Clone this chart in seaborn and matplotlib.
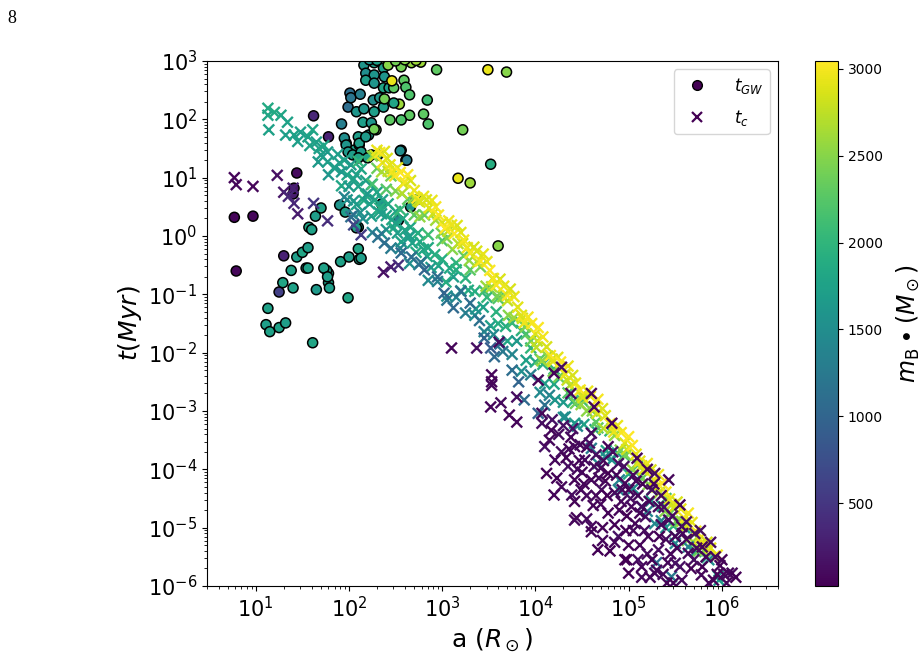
import numpy as np
import pandas as pd
import matplotlib
matplotlib.use("Agg")
import matplotlib.pyplot as plt
import seaborn as sns
from matplotlib.colors import Normalize
from matplotlib.lines import Line2D
from matplotlib.ticker import LogLocator, NullFormatter

# ---------------- data (log10 a [R_sun], log10 t [Myr], mass [M_sun]) ----------------
# t_GW circles
gw_low_loga = [0.77, 0.97, 0.79, 1.44, 1.40, 1.41, 1.62, 1.78, 1.30, 1.25]
gw_low_logt = [0.32, 0.34, -0.60, 1.08, 0.72, 0.82, 2.06, 1.70, -0.34, -0.96]
gw_low_m = [60, 80, 70, 110, 250, 200, 350, 300, 300, 600]

gw_ll_loga = [1.13, 1.11, 1.15, 1.25, 1.32, 1.29, 1.38, 1.40, 1.44, 1.50, 1.54, 1.61, 1.65, 1.57,
              1.60, 1.64, 1.70, 1.78, 1.76, 1.78, 1.79, 1.91, 2.00, 2.11, 1.99, 2.10, 2.10, 1.90,
              1.96, 1.56, 1.56, 1.73, 1.77, 2.13, 2.08]
gw_ll_logt = [-1.24, -1.52, -1.64, -1.57, -1.49, -0.80, -0.59, -0.89, -0.36, -0.28, -0.55, -1.83,
              -0.92, 0.15, 0.11, 0.34, 0.48, -0.64, -0.59, -0.80, -0.89, -0.44, -0.36, -0.40, -1.06,
              -0.22, 0.15, 0.53, 0.41, -0.20, -0.55, -0.55, -0.70, -0.38, 0.14]
gw_ll_m = [1750, 1700, 1750, 1750, 1700, 1800, 1750, 1750, 1700, 1800, 1700, 1800, 1650, 1800,
           1750, 1700, 1750, 1800, 1700, 1750, 1700, 1750, 1700, 1750, 1800, 1800, 1700, 1600,
           1700, 1700, 1750, 1750, 1700, 1700, 1750]

gw_up_loga = [2.05, 1.97, 2.11, 2.24, 2.56, 2.61, 1.92, 1.99, 2.01, 2.02, 2.12, 2.08, 2.16, 2.27,
              2.26, 2.33, 2.37, 2.38, 2.15, 2.24, 2.29, 2.21, 2.10, 2.11, 2.18, 1.95, 1.97, 1.99,
              2.04, 2.13, 2.10, 2.20, 2.16, 2.27, 2.18, 2.27, 2.18, 2.27, 2.37, 2.38, 2.37, 2.43,
              2.48, 2.46, 2.42, 2.56, 2.67, 2.77, 2.59, 2.61, 2.65, 2.54, 2.48, 2.65, 2.56, 2.44,
              2.27, 2.84, 2.80, 2.85, 2.94, 3.49, 3.69, 3.22, 3.17, 3.30, 3.52, 2.55, 2.62, 2.31,
              3.60, 2.35, 2.53, 2.72, 2.66, 2.22, 2.30, 2.50, 2.60, 2.72]
gw_up_logt = [1.47, 1.59, 1.56, 1.39, 1.47, 1.30, 1.92, 2.21, 2.45, 2.37, 2.43, 2.13, 2.18, 2.13,
              2.33, 2.37, 2.21, 2.35, 1.95, 1.94, 1.82, 1.73, 1.70, 1.59, 1.70, 1.68, 1.56, 1.44,
              1.39, 1.44, 1.34, 1.34, 2.93, 2.97, 2.79, 2.76, 2.67, 2.62, 2.88, 2.73, 2.54, 2.54,
              2.54, 2.66, 2.93, 2.90, 2.97, 2.98, 2.67, 2.55, 2.42, 2.26, 2.28, 2.07, 1.99, 1.99,
              1.83, 2.33, 2.09, 1.92, 2.85, 2.85, 2.81, 1.82, 0.99, 0.91, 1.23, 1.46, 1.30, 1.39,
              -0.17, 0.55, 0.27, 0.62, 0.50, 3.02, 3.01, 3.00, 3.02, 3.01]
gw_up_m = [1700, 1650, 1700, 1750, 1500, 1300, 1300, 1100, 1100, 1200, 1300, 1600, 1600, 1700,
           1500, 1600, 1700, 2400, 1700, 1600, 2400, 1700, 1700, 1700, 1650, 1500, 1600, 1650,
           1700, 1700, 1800, 1800, 1600, 1700, 1500, 1600, 1700, 1600, 1700, 1600, 1800, 1700,
           2300, 2950, 2500, 2400, 2550, 2600, 2300, 2200, 2200, 2600, 1800, 2300, 2200, 2300,
           2400, 2100, 2300, 2200, 2300, 2950, 2500, 2400, 2950, 2600, 1900, 1500, 1300, 1700,
           2500, 1500, 1400, 1900, 1600, 1600, 1750, 2400, 2500, 2600]

# t_c crosses
tc_y1_loga = [2.30, 2.36, 2.41, 2.47, 2.52, 2.60, 2.66, 2.73, 2.80, 2.86, 2.93, 3.00, 3.07, 3.13,
              3.20, 3.27, 3.34, 3.41, 3.48, 3.55, 3.62, 3.70, 3.77, 3.85, 3.92, 4.00, 4.08, 4.16,
              4.24, 4.32, 4.40, 4.48, 4.56, 4.64, 4.72, 4.80, 4.88, 4.96, 5.04, 5.12, 5.20, 5.28,
              5.36, 5.44, 5.52, 5.60, 5.68, 5.76, 5.84, 5.92]
tc_y1_logt = [1.47, 1.26, 1.33, 1.11, 1.17, 0.92, 0.95, 0.65, 0.68, 0.48, 0.50, 0.23, 0.26, 0.04,
              0.06, -0.20, -0.19, -0.43, -0.44, -0.73, -0.74, -1.02, -1.04, -1.36, -1.39, -1.68,
              -1.73, -2.05, -2.08, -2.37, -2.39, -2.64, -2.66, -2.95, -2.96, -3.22, -3.25, -3.55,
              -3.59, -3.86, -3.90, -4.19, -4.24, -4.51, -4.56, -4.84, -4.91, -5.19, -5.25, -5.49]
tc_y1_m = [2950, 3000, 2880, 3030, 2920, 2990, 2860, 3040, 2940, 2900, 3010, 2870, 2980, 3030,
           2910, 2960, 2850, 3020, 2930, 2990, 2880, 3040, 2950, 2900, 3000, 2870, 2980, 3020,
           2920, 2960, 2860, 3030, 2940, 2990, 2890, 3010, 2950, 2870, 3030, 2920, 2980, 2900,
           3040, 2940, 2860, 3000, 2930, 2970, 2890, 3020]

tc_y2_loga = [2.38, 2.49, 2.63, 2.76, 2.89, 3.03, 3.16, 3.30, 3.44, 3.58, 3.73, 3.88, 4.03, 4.19,
              4.35, 4.51, 4.67, 4.84, 5.00, 5.16, 5.32, 5.48, 5.64, 5.80, 5.95]
tc_y2_logt = [1.45, 1.03, 1.05, 0.58, 0.61, 0.13, 0.18, -0.29, -0.31, -0.84, -0.91, -1.49, -1.57,
              -2.15, -2.23, -2.77, -2.80, -3.36, -3.44, -4.01, -4.09, -4.66, -4.75, -5.31, -5.47]
tc_y2_m = [2900, 2980, 3020, 2870, 2950, 3040, 2890, 2990, 2930, 3010, 2860, 2970, 3030, 2910,
           2960, 2880, 3000, 2940, 3040, 2900, 2970, 2850, 3010, 2930, 2990]

tc_y3_loga = [2.33, 2.44, 2.55, 2.70, 2.83, 2.96, 3.10, 3.23, 3.37, 3.51, 3.66, 3.81, 3.96, 4.12,
              4.27, 4.43, 4.59, 4.75, 4.92, 5.08, 5.24, 5.40, 5.56, 5.72, 5.88]
tc_y3_logt = [1.43, 1.22, 1.09, 0.78, 0.62, 0.36, 0.19, -0.07, -0.26, -0.59, -0.86, -1.22, -1.50,
              -1.90, -2.16, -2.52, -2.75, -3.08, -3.37, -3.74, -4.01, -4.39, -4.68, -5.06, -5.35]
tc_y3_m = [3000, 2920, 3040, 2960, 2880, 3020, 2940, 2990, 2870, 3030, 2950, 2910, 3000, 2860,
           3040, 2930, 2980, 2900, 3020, 2950, 2870, 3010, 2940, 2990, 2920]

tc_y4_loga = [2.28, 2.42, 2.58, 2.74, 2.90, 3.06, 3.22, 3.38, 3.54, 3.70, 3.86, 4.02, 4.18, 4.34,
              4.50, 4.66, 4.82, 4.98, 5.14, 5.30, 5.46, 5.62, 5.78]
tc_y4_logt = [1.38, 1.11, 0.90, 0.60, 0.38, 0.08, -0.13, -0.45, -0.73, -1.11, -1.41, -1.80, -2.11,
              -2.47, -2.73, -3.04, -3.30, -3.66, -3.94, -4.30, -4.60, -4.97, -5.27]
tc_y4_m = [2800, 2760, 2840, 2780, 2820, 2750, 2850, 2790, 2810, 2770, 2840, 2760, 2830, 2800,
           2780, 2850, 2750, 2820, 2790, 2840, 2770, 2810, 2800]

tc_g_loga = [2.25, 2.35, 2.45, 2.57, 2.69, 2.81, 2.93, 3.05, 3.17, 3.29, 3.41, 3.53, 3.65, 3.77,
             3.89, 4.01, 4.13, 4.25, 4.37, 4.49, 4.61, 4.73, 4.85, 4.97, 5.09, 5.21, 5.33, 5.45,
             5.57, 5.69, 5.81]
tc_g_logt = [1.37, 1.10, 1.03, 0.73, 0.65, 0.36, 0.27, -0.04, -0.13, -0.42, -0.53, -0.87, -1.04,
             -1.40, -1.56, -1.91, -2.06, -2.42, -2.56, -2.89, -3.00, -3.30, -3.42, -3.76, -3.91,
             -4.26, -4.40, -4.75, -4.89, -5.24, -5.40]
tc_g_m = [2500, 2650, 2420, 2700, 2550, 2380, 2620, 2480, 2720, 2560, 2400, 2680, 2520, 2600,
          2450, 2740, 2530, 2390, 2660, 2580, 2470, 2700, 2540, 2430, 2640, 2500, 2690, 2410,
          2590, 2650, 2520]

tc_g2_loga = [2.30, 2.50, 2.63, 2.76, 2.99, 3.11, 3.23, 3.47, 3.59, 3.71, 3.95, 4.07, 4.19, 4.43,
              4.55, 4.67, 4.91, 5.03, 5.15, 5.39, 5.51, 5.63, 5.75]
tc_g2_logt = [1.16, 0.77, 0.63, 0.33, 0.05, -0.23, -0.34, -0.86, -1.03, -1.36, -1.80, -2.14, -2.32,
              -2.87, -3.00, -3.29, -3.67, -3.99, -4.15, -4.72, -4.89, -5.22, -5.40]
tc_g2_m = [2350, 2450, 2300, 2550, 2400, 2500, 2320, 2580, 2420, 2480, 2360, 2600, 2440, 2380,
           2520, 2300, 2460, 2560, 2340, 2500, 2410, 2470, 2380]

tc_gt_loga = [2.10, 2.25, 2.40, 2.55, 2.70, 2.85, 3.00, 3.15, 3.30, 3.45, 3.60, 3.75, 3.90, 4.05,
              4.20, 4.35, 4.50, 4.65, 4.80, 4.95, 5.10, 5.25, 5.40, 5.55, 5.70]
tc_gt_logt = [1.28, 0.89, 0.80, 0.45, 0.36, 0.02, -0.08, -0.46, -0.58, -0.94, -1.07, -1.49, -1.68,
              -2.11, -2.28, -2.69, -2.82, -3.19, -3.34, -3.76, -3.93, -4.35, -4.50, -4.90, -5.11]
tc_gt_m = [2000, 2150, 2250, 2050, 2300, 2100, 2200, 1980, 2280, 2120, 2230, 2020, 2180, 2300,
           2060, 2210, 2140, 2270, 2000, 2190, 2250, 2080, 2160, 2290, 2030]

tc_tul_loga = [1.13, 1.13, 1.14, 1.27, 1.34, 1.32, 1.41, 1.48, 1.56, 1.61, 1.65, 1.68, 1.70, 1.77,
               1.67, 1.77, 1.84, 1.78, 1.20, 1.45, 1.58, 1.73]
tc_tul_logt = [2.19, 2.07, 1.82, 2.07, 1.95, 1.73, 1.73, 1.78, 1.70, 1.82, 1.61, 1.50, 1.39, 1.44,
               1.27, 1.27, 1.17, 1.05, 2.12, 1.62, 1.55, 1.55]
tc_tul_m = [1850, 1800, 1750, 1800, 1750, 1700, 1750, 1700, 1750, 1800, 1700, 1750, 1700, 1650,
            1650, 1700, 1750, 1600, 1850, 1700, 1750, 1800]

tc_t_loga = [1.85, 1.92, 2.00, 2.08, 2.16, 2.24, 2.32, 2.40, 2.48, 2.56, 2.64, 2.72, 2.80, 2.88,
             2.96, 3.04, 3.12, 3.20, 3.28, 3.36, 3.44, 3.52, 3.60, 3.70, 3.80, 3.90, 4.00, 4.10,
             4.20, 4.30, 4.40, 4.52, 4.64, 4.76, 4.88, 5.00, 5.12, 5.24, 5.36, 5.48, 5.60, 5.72,
             5.84, 5.96]
tc_t_logt = [1.17, 0.86, 0.85, 0.54, 0.61, 0.34, 0.41, 0.11, 0.14, -0.10, -0.03, -0.28, -0.23,
             -0.54, -0.51, -0.79, -0.70, -0.94, -0.93, -1.25, -1.22, -1.54, -1.50, -1.80, -1.80,
             -2.13, -2.16, -2.53, -2.54, -2.85, -2.84, -3.23, -3.32, -3.68, -3.72, -4.08, -4.12,
             -4.54, -4.63, -4.97, -5.00, -5.41, -5.51, -5.83]
tc_t_m = [1700, 1800, 1650, 1750, 1850, 1700, 1800, 1650, 1900, 1750, 1700, 1850, 1800, 1650,
          1750, 1900, 1700, 1800, 1850, 1650, 1750, 1700, 1900, 1800, 1650, 1750, 1850, 1700,
          1800, 1650, 1900, 1750, 1700, 1800, 1650, 1850, 1750, 1700, 1800, 1900, 1650, 1750,
          1800, 1700]

tc_t2_loga = [1.90, 1.98, 2.05, 2.10, 2.18, 2.22, 2.28, 2.33, 2.40, 2.46, 2.52, 2.60, 2.68, 2.76,
              2.84, 2.92, 3.08, 3.25, 3.35, 3.48, 3.58, 3.68, 3.85, 3.95, 4.08]
tc_t2_logt = [1.25, 1.05, 0.60, 0.85, 0.70, 0.55, 0.62, 0.48, 0.35, 0.28, 0.05, 0.10, -0.12, -0.10,
              -0.35, -0.32, -0.55, -0.72, -0.95, -1.05, -1.30, -1.55, -1.62, -1.92, -2.20]
tc_t2_m = [1700, 1800, 1650, 1750, 1850, 1700, 1800, 1900, 1750, 1850, 1700, 1800, 1750, 1850,
           1800, 1900, 1850, 1950, 1900, 2000, 1950, 1900, 1950, 2000, 1950]

tc_tup_loga = [1.88, 1.95, 2.02, 2.08, 2.13, 2.18, 2.24, 2.30, 2.36, 2.42, 2.50, 2.58, 2.66, 2.74,
               1.92, 2.05, 2.20, 2.35, 2.50, 2.65, 2.85, 3.00, 3.15, 1.98, 2.12]
tc_tup_logt = [1.40, 1.30, 1.22, 1.05, 1.15, 0.95, 0.88, 0.75, 0.62, 0.55, 0.42, 0.30, 0.15, 0.05,
               1.10, 0.98, 0.72, 0.38, 0.22, 0.00, -0.20, -0.40, -0.58, 0.62, 0.40]
tc_tup_m = [1700, 1750, 1650, 1700, 1800, 1750, 1700, 1800, 1750, 1850, 1800, 1850, 1800, 1900,
            1650, 1750, 1650, 1700, 1750, 1700, 1850, 1900, 1900, 1600, 1550]

tc_bt_loga = [1.95, 2.05, 2.15, 2.25, 2.35, 2.45, 2.55, 2.65, 2.75, 2.85, 2.95, 3.05, 3.15, 3.25,
              3.35, 3.45, 3.55, 3.65, 3.75, 3.85, 3.95, 4.05, 4.15, 4.30, 4.45, 4.60, 4.75, 4.90,
              5.05, 5.20, 5.35, 5.50]
tc_bt_logt = [0.67, 0.36, 0.30, 0.06, 0.04, -0.21, -0.21, -0.47, -0.49, -0.76, -0.78, -1.03,
              -1.05, -1.32, -1.36, -1.64, -1.69, -1.98, -2.03, -2.32, -2.38, -2.68, -2.73, -3.11,
              -3.26, -3.64, -3.78, -4.18, -4.33, -4.72, -4.88, -5.27]
tc_bt_m = [1400, 1300, 1500, 1350, 1450, 1250, 1400, 1500, 1300, 1450, 1350, 1550, 1400, 1300,
           1500, 1350, 1450, 1250, 1400, 1500, 1300, 1450, 1350, 1500, 1400, 1300, 1450, 1350,
           1500, 1400, 1300, 1450]

tc_b_loga = [2.02, 2.05, 2.13, 2.31, 2.38, 2.56, 2.67, 2.81, 2.77, 2.95, 3.12, 3.20, 3.30, 3.45,
             3.56, 3.40, 3.62, 3.82, 3.88, 3.75, 4.03, 4.10, 3.52, 3.05, 3.02]
tc_b_logt = [0.33, 0.19, 0.02, -0.02, -0.12, -0.29, -0.36, -0.58, -0.45, -0.70, -1.23, -0.95,
             -1.15, -1.75, -2.07, -1.45, -1.85, -2.50, -2.81, -2.30, -3.04, -2.90, -1.92, -1.10,
             -0.98]
tc_b_m = [1100, 650, 550, 1150, 1100, 1050, 1100, 1000, 1150, 1100, 1050, 1150, 1100, 1000,
          1050, 1150, 1100, 1000, 1050, 1100, 1000, 1150, 900, 1200, 1000]

tc_pul_loga = [0.77, 0.79, 0.97, 1.23, 1.30, 1.40, 1.41, 1.45, 1.62, 1.77, 2.37, 2.45, 2.53, 1.35]
tc_pul_logt = [1.00, 0.88, 0.85, 1.04, 0.75, 0.82, 0.56, 0.38, 0.56, 0.26, -0.62, -0.53, -0.50, 0.68]
tc_pul_m = [60, 70, 80, 150, 200, 300, 350, 250, 500, 400, 150, 250, 400, 350]

tc_pmid_loga = [3.10, 3.37, 3.61, 3.53, 3.53, 3.53, 3.52, 3.63, 3.72, 3.80, 3.80, 4.03, 4.20,
                4.28, 4.38, 4.60, 4.63, 4.20, 4.42]
tc_pmid_logt = [-1.92, -1.92, -1.82, -2.38, -2.50, -2.56, -2.93, -2.86, -3.07, -3.19, -2.76,
                -2.47, -2.35, -2.25, -2.70, -2.70, -2.93, -4.44, -4.87]
tc_pmid_m = [60, 150, 120, 80, 70, 90, 60, 100, 60, 80, 120, 80, 60, 100, 80, 60, 70, 60, 70]

tc_tc_loga = [4.21, 4.32, 4.42, 4.67, 4.82, 4.89, 5.14, 5.28, 5.50, 5.64, 5.86, 5.97, 5.46, 5.30, 5.40]
tc_tc_logt = [-2.81, -3.10, -3.21, -3.90, -3.84, -4.35, -4.64, -4.93, -5.15, -5.33, -5.55, -5.90,
              -5.84, -5.60, -5.00]
tc_tc_m = [1600, 1500, 1650, 1450, 1550, 1400, 1500, 1450, 1550, 1400, 1500, 1700, 1250, 1100, 1600]

tc_pc_loga = [4.07, 4.07, 4.17, 4.10, 4.21, 4.12, 4.28, 4.42, 4.35, 4.42, 4.53, 4.60, 4.71, 4.49,
              4.78, 4.89, 4.96, 4.78, 4.60, 4.67, 4.89, 5.07, 5.14, 5.21, 4.96, 5.25, 5.32, 5.43,
              5.50, 5.32, 5.14, 5.00, 5.28, 5.50, 5.64, 5.79, 5.57, 5.86, 6.07, 6.00, 5.18, 5.03,
              4.78, 4.60, 4.82, 5.09, 5.55, 5.28, 5.43, 5.57, 5.71, 5.79, 5.93, 4.98, 5.14, 5.30,
              5.41, 5.55, 5.78, 5.91, 6.11, 4.23, 4.39, 4.44, 4.60, 4.72, 4.30, 4.38, 4.48, 4.55,
              4.65, 4.70, 4.75, 4.85, 4.92, 4.98, 5.05, 5.12, 5.20, 4.85, 4.70, 4.55, 4.50, 4.65,
              5.00, 5.10, 5.15, 5.35, 5.40, 5.45, 5.25, 5.62, 5.70, 5.95, 6.05, 5.35, 4.90, 4.80,
              5.05, 4.95, 5.20]
tc_pc_logt = [-3.04, -3.21, -3.33, -3.61, -3.84, -4.07, -3.70, -3.61, -3.95, -4.18, -3.84, -4.18,
              -4.35, -4.35, -4.07, -3.90, -4.24, -4.75, -4.98, -5.38, -5.15, -4.93, -4.64, -5.15,
              -5.55, -4.35, -4.64, -4.87, -5.15, -5.38, -5.67, -5.78, -5.78, -5.61, -5.44, -5.67,
              -5.90, -5.95, -5.78, -5.55, -4.81, -4.64, -3.61, -3.38, -3.21, -3.81, -4.61, -4.07,
              -4.18, -4.98, -5.10, -5.33, -5.50, -5.55, -5.85, -5.73, -5.95, -5.67, -5.81, -5.90,
              -5.78, -4.15, -4.44, -4.83, -5.07, -5.22, -3.25, -3.45, -3.58, -3.62, -3.75, -3.98,
              -4.20, -4.40, -4.55, -4.80, -5.05, -5.30, -5.45, -4.95, -4.60, -4.45, -4.05, -4.45,
              -4.35, -4.45, -4.25, -4.95, -5.20, -5.45, -5.55, -5.20, -5.55, -5.80, -5.95, -4.45,
              -4.70, -5.40, -4.10, -3.95, -4.00]
tc_pc_m = [80, 120, 60, 150, 90, 40, 110, 70, 130, 50, 100, 60, 140, 80, 30, 120, 70, 50, 90, 40,
           160, 60, 110, 80, 30, 140, 70, 100, 50, 120, 60, 40, 90, 150, 70, 30, 110, 60, 80, 50,
           130, 90, 40, 100, 60, 70, 50, 120, 80, 40, 140, 60, 90, 30, 110, 70, 50, 160, 80, 60,
           100, 40, 120, 70, 50, 90, 150, 60, 100, 40, 130, 80, 50, 110, 70, 30, 90, 60, 140, 40,
           80, 120, 60, 100, 50, 70, 30, 90, 110, 60, 40, 80, 130, 50, 70, 100, 60, 40, 90, 120,
           50]

tc_pc2_loga = [4.15, 4.25, 4.33, 4.40, 4.45, 4.52, 4.58, 4.62, 4.68, 4.73, 4.77, 4.83, 4.87, 4.93,
               4.97, 5.02, 5.08, 5.12, 5.17, 5.22, 5.27, 5.33, 5.38, 5.42, 5.47, 5.52, 5.58, 5.62,
               5.67, 5.73, 5.77, 5.83, 5.88, 5.98, 6.02, 6.15, 4.18, 4.36, 4.47, 4.63, 4.72, 4.85,
               5.00, 5.10, 5.23, 5.37, 5.48, 4.55, 4.42, 4.28]
tc_pc2_logt = [-3.50, -3.40, -3.80, -3.30, -4.00, -4.25, -3.55, -4.62, -4.15, -3.85, -4.45, -3.70,
               -4.10, -4.35, -5.05, -4.50, -4.20, -4.75, -5.05, -4.55, -4.25, -5.15, -4.65, -5.60,
               -4.80, -5.35, -5.10, -4.90, -5.70, -5.35, -5.05, -5.50, -5.25, -5.65, -5.80, -5.85,
               -3.15, -3.65, -3.85, -3.95, -5.00, -5.25, -5.30, -5.55, -5.85, -5.80, -5.95, -4.85,
               -4.55, -4.30]
tc_pc2_m = [70, 110, 40, 150, 90, 60, 130, 50, 100, 80, 40, 120, 60, 90, 30, 140, 70, 50, 110, 80,
            60, 40, 130, 70, 100, 50, 90, 150, 40, 80, 120, 60, 100, 50, 70, 40, 160, 90, 60, 110,
            50, 80, 40, 120, 70, 90, 60, 100, 50, 80]

# colour scale limits of m_B (M_sun)
mass_min, mass_max = 22, 3046


def frame(loga, logt, m):
    assert len(loga) == len(logt) == len(m), (len(loga), len(logt), len(m))
    return pd.DataFrame({"a": np.power(10.0, loga), "t": np.power(10.0, logt), "m": m})


gw = pd.concat([frame(gw_low_loga, gw_low_logt, gw_low_m),
                frame(gw_ll_loga, gw_ll_logt, gw_ll_m),
                frame(gw_up_loga, gw_up_logt, gw_up_m)], ignore_index=True)

tc = pd.concat([frame(tc_tul_loga, tc_tul_logt, tc_tul_m),
                frame(tc_t_loga, tc_t_logt, tc_t_m),
                frame(tc_t2_loga, tc_t2_logt, tc_t2_m),
                frame(tc_tup_loga, tc_tup_logt, tc_tup_m),
                frame(tc_bt_loga, tc_bt_logt, tc_bt_m),
                frame(tc_b_loga, tc_b_logt, tc_b_m),
                frame(tc_gt_loga, tc_gt_logt, tc_gt_m),
                frame(tc_g2_loga, tc_g2_logt, tc_g2_m),
                frame(tc_g_loga, tc_g_logt, tc_g_m),
                frame(tc_y4_loga, tc_y4_logt, tc_y4_m),
                frame(tc_y1_loga, tc_y1_logt, tc_y1_m),
                frame(tc_y2_loga, tc_y2_logt, tc_y2_m),
                frame(tc_y3_loga, tc_y3_logt, tc_y3_m),
                frame(tc_pul_loga, tc_pul_logt, tc_pul_m),
                frame(tc_pmid_loga, tc_pmid_logt, tc_pmid_m),
                frame(tc_tc_loga, tc_tc_logt, tc_tc_m),
                frame(tc_pc_loga, tc_pc_logt, tc_pc_m),
                frame(tc_pc2_loga, tc_pc2_logt, tc_pc2_m)], ignore_index=True)

# ---------------- plot ----------------
norm = Normalize(vmin=mass_min, vmax=mass_max)
cmap = plt.get_cmap("viridis")

fig = plt.figure(figsize=(9.21, 6.53), dpi=100)
ax = fig.add_axes([0.2248, 0.1026, 0.6199, 0.804])
cax = fig.add_axes([0.885, 0.1026, 0.0250, 0.804])

ax.set_xscale("log")
ax.set_yscale("log")

sns.scatterplot(data=gw, x="a", y="t", hue="m", palette="viridis", hue_norm=norm,
                marker="o", s=52, edgecolor="k", linewidth=1.1, legend=False, ax=ax, zorder=2)
sns.scatterplot(data=tc, x="a", y="t", hue="m", palette="viridis", hue_norm=norm,
                marker="x", s=60, linewidth=1.7, legend=False, ax=ax, zorder=3)

ax.set_xlim(3, 4e6)
ax.set_ylim(1e-6, 1e3)
ax.set_xticks([10.0 ** k for k in range(1, 7)])
ax.set_yticks([10.0 ** k for k in range(-6, 4)])
ax.xaxis.set_minor_locator(LogLocator(base=10, subs=np.arange(2, 10), numticks=100))
ax.yaxis.set_minor_locator(LogLocator(base=10, subs=np.arange(2, 10), numticks=100))
ax.xaxis.set_minor_formatter(NullFormatter())
ax.yaxis.set_minor_formatter(NullFormatter())
ax.tick_params(axis="both", which="major", labelsize=15)

ax.set_xlabel(r"a ($R_\odot$)", fontsize=18)
ax.set_ylabel(r"$t(Myr)$", fontsize=18)
ax.yaxis.set_label_coords(-0.11, 0.5)

handles = [
    Line2D([], [], marker="o", linestyle="none", markerfacecolor=cmap(0.0),
           markeredgecolor="k", markersize=7, label=r"$t_{GW}$"),
    Line2D([], [], marker="x", linestyle="none", color=cmap(0.0),
           markersize=7, markeredgewidth=1.6, label=r"$t_c$"),
]
ax.legend(handles=handles, loc="upper right", fontsize=12, handletextpad=1.2,
          borderpad=0.4, labelspacing=0.7)

sm = matplotlib.cm.ScalarMappable(norm=norm, cmap=cmap)
sm.set_array([])
cb = fig.colorbar(sm, cax=cax)
cb.set_ticks([500, 1000, 1500, 2000, 2500, 3000])
cb.ax.tick_params(labelsize=10)
cb.set_label(r"$m_{\rm B}\bullet(M_\odot)$", fontsize=17, labelpad=8)

fig.text(0.008, 0.985, "8", family="Liberation Serif", fontsize=13, va="top", ha="left")

fig.savefig("out.png", dpi=100)
